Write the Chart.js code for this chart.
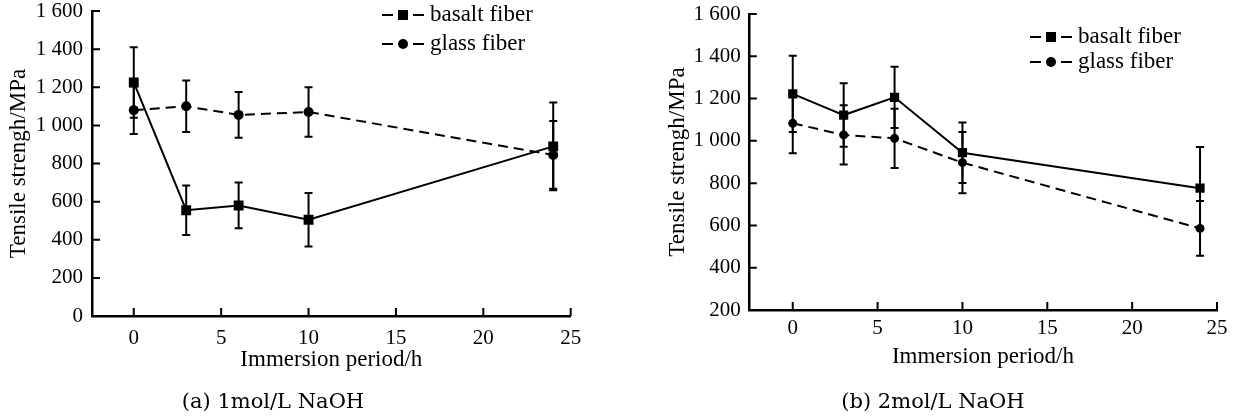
<!DOCTYPE html>
<html>
<head>
<meta charset="utf-8">
<script src="https://cdn.jsdelivr.net/npm/chart.js@4.4.1/dist/chart.umd.min.js"></script>
<style>
  body { margin: 0; background: #fff; }
  #wrap { position: relative; width: 1239px; height: 419px; overflow: hidden; }
  canvas { position: absolute; top: 0; }
  .cap { position: absolute; font-family: "DejaVu Serif"; font-size: 21px; line-height: 26px;
         white-space: nowrap; transform: translateX(-50%); color: #000; }
</style>
</head>
<body>
<div id="wrap">
  <canvas id="chartA" width="640" height="419" style="left:0;width:640px;height:419px"></canvas>
  <canvas id="chartB" width="599" height="419" style="left:640px;width:599px;height:419px"></canvas>
  <div class="cap" style="left:273px;top:388px">(a) 1mol/L NaOH</div>
  <div class="cap" style="left:933px;top:388px">(b) 2mol/L NaOH</div>
</div>
<script>
// immersion times (h)
var hours = [0, 3, 6, 10, 24];
var xTicks = [0, 5, 10, 15, 20, 25];
var seriesNames = ['basalt fiber', 'glass fiber'];

// (a) 1 mol/L NaOH
var basalt1 = [1225, 555, 580, 505, 890];
var basalt1Err = [185, 130, 120, 140, 230];
var glass1 = [1080, 1100, 1055, 1070, 845];
var glass1Err = [125, 135, 120, 130, 178];

// (b) 2 mol/L NaOH
var basalt2 = [1222, 1122, 1206, 944, 776];
var basalt2Err = [180, 150, 145, 143, 195];
var glass2 = [1083, 1028, 1012, 897, 586];
var glass2Err = [142, 140, 140, 145, 130];

var serif = 'Liberation Serif';

function spaced(v) {
    return String(v).replace(/\B(?=(\d{3})+(?!\d))/g, ' ');
}

function points(vals) {
    return hours.map(function(h, i) { return {x: h, y: vals[i]}; });
}

// error bars, inward ticks and the legend
var extras = {
    id: 'extras',
    beforeDatasetsDraw: function(chart) {
        var ctx = chart.ctx, xs = chart.scales.x, ys = chart.scales.y;
        var o = chart.options.plugins.extras;
        ctx.save();
        ctx.strokeStyle = '#000';
        ctx.lineWidth = 2;
        chart.data.datasets.forEach(function(ds) {
            ds.data.forEach(function(p, j) {
                var e = ds.errors[j];
                var px = xs.getPixelForValue(p.x);
                var top = ys.getPixelForValue(p.y + e);
                var bot = ys.getPixelForValue(p.y - e);
                ctx.beginPath();
                ctx.moveTo(px, top); ctx.lineTo(px, bot);
                ctx.moveTo(px - o.cap, top); ctx.lineTo(px + o.cap, top);
                ctx.moveTo(px - o.cap, bot); ctx.lineTo(px + o.cap, bot);
                ctx.stroke();
            });
        });
        ctx.restore();
    },
    afterDraw: function(chart) {
        var ctx = chart.ctx, xs = chart.scales.x, ys = chart.scales.y;
        var o = chart.options.plugins.extras;
        var area = chart.chartArea;
        ctx.save();
        ctx.strokeStyle = '#000';
        ctx.lineWidth = 2;
        ctx.beginPath();
        xTicks.forEach(function(v) {
            var px = xs.getPixelForValue(v);
            ctx.moveTo(px, area.bottom); ctx.lineTo(px, area.bottom - 8);
        });
        ys.ticks.forEach(function(t) {
            var py = ys.getPixelForValue(t.value);
            ctx.moveTo(area.left, py); ctx.lineTo(area.left + 8, py);
        });
        ctx.stroke();

        // legend
        ctx.font = '23px ' + serif + ', serif';
        ctx.textBaseline = 'middle';
        ctx.fillStyle = '#000';
        chart.data.datasets.forEach(function(ds, i) {
            var y = o.legendY[i], x0 = o.legendX;
            ctx.lineWidth = 2;
            ctx.setLineDash([]);
            ctx.beginPath();
            ctx.moveTo(x0, y); ctx.lineTo(x0 + 11, y);
            ctx.moveTo(x0 + 31, y); ctx.lineTo(x0 + 42, y);
            ctx.stroke();
            ctx.beginPath();
            if (ds.pointStyle === 'rect') {
                ctx.rect(x0 + 16, y - 5, 10, 10);
            } else {
                ctx.arc(x0 + 21, y, 5, 0, Math.PI * 2);
            }
            ctx.fill();
            ctx.fillText(ds.label, x0 + 48, y);
        });
        ctx.restore();
    }
};

function makeChart(id, b, bErr, g, gErr, cfg) {
    return new Chart(document.getElementById(id).getContext('2d'), {
        type: 'scatter',
        data: {
            datasets: [{
                label: seriesNames[0],
                data: points(b),
                errors: bErr,
                showLine: true,
                borderColor: '#000',
                backgroundColor: '#000',
                borderWidth: 2,
                pointStyle: 'rect',
                pointRadius: cfg.rectR,
                pointBorderWidth: 0
            }, {
                label: seriesNames[1],
                data: points(g),
                errors: gErr,
                showLine: true,
                borderColor: '#000',
                backgroundColor: '#000',
                borderWidth: 2,
                borderDash: [10, 6],
                pointStyle: 'circle',
                pointRadius: cfg.circR,
                pointBorderWidth: 0
            }]
        },
        options: {
            responsive: false,
            animation: false,
            events: [],
            layout: { padding: { top: cfg.top, right: cfg.right, left: 0, bottom: 0 } },
            scales: {
                x: {
                    type: 'linear',
                    min: cfg.xMin,
                    max: 25,
                    grid: { display: false, drawTicks: false },
                    border: { display: true, color: '#000', width: 2.5 },
                    ticks: { color: '#000', padding: cfg.xPad, font: { family: serif, size: 21 } },
                    title: {
                        display: true,
                        text: 'Immersion period/h',
                        color: '#000',
                        font: { family: serif, size: 23 },
                        padding: { top: 0, bottom: cfg.xTitlePad }
                    },
                    afterBuildTicks: function(scale) {
                        scale.ticks = xTicks.map(function(v) { return {value: v}; });
                    },
                    afterFit: function(scale) {
                        scale.height = cfg.xHeight;
                        scale.paddingLeft = 0;
                        scale.paddingRight = 0;
                    }
                },
                y: {
                    min: cfg.yMin,
                    max: 1600,
                    grid: { display: false, drawTicks: false },
                    border: { display: true, color: '#000', width: 2.5 },
                    ticks: {
                        stepSize: 200,
                        color: '#000',
                        padding: cfg.yPad,
                        font: { family: serif, size: 21 },
                        callback: function(v) { return spaced(v); }
                    },
                    title: {
                        display: true,
                        text: 'Tensile strengh/MPa',
                        color: '#000',
                        font: { family: serif, size: 23 },
                        padding: { top: cfg.yTitlePad, bottom: 0 }
                    },
                    afterFit: function(scale) {
                        scale.width = cfg.yWidth;
                        scale.paddingTop = 0;
                        scale.paddingBottom = 0;
                    }
                }
            },
            plugins: {
                legend: { display: false },
                tooltip: { enabled: false },
                extras: { cap: 4, legendX: cfg.legendX, legendY: cfg.legendY }
            }
        },
        plugins: [extras]
    });
}

makeChart('chartA', basalt1, basalt1Err, glass1, glass1Err, {
    top: 11, right: 69.3, xMin: -2.39, yMin: 0,
    xHeight: 103, xPad: 10, xTitlePad: 45,
    yWidth: 92, yPad: 9, yTitlePad: 5,
    rectR: 7, circR: 5,
    legendX: 382, legendY: [15, 44]
});

makeChart('chartB', basalt2, basalt2Err, glass2, glass2Err, {
    top: 14, right: 22, xMin: -2.59, yMin: 200,
    xHeight: 109, xPad: 6, xTitlePad: 48,
    yWidth: 108.8, yPad: 8, yTitlePad: 24,
    rectR: 6.5, circR: 4.5,
    legendX: 390, legendY: [37, 62]
});
</script>
</body>
</html>
